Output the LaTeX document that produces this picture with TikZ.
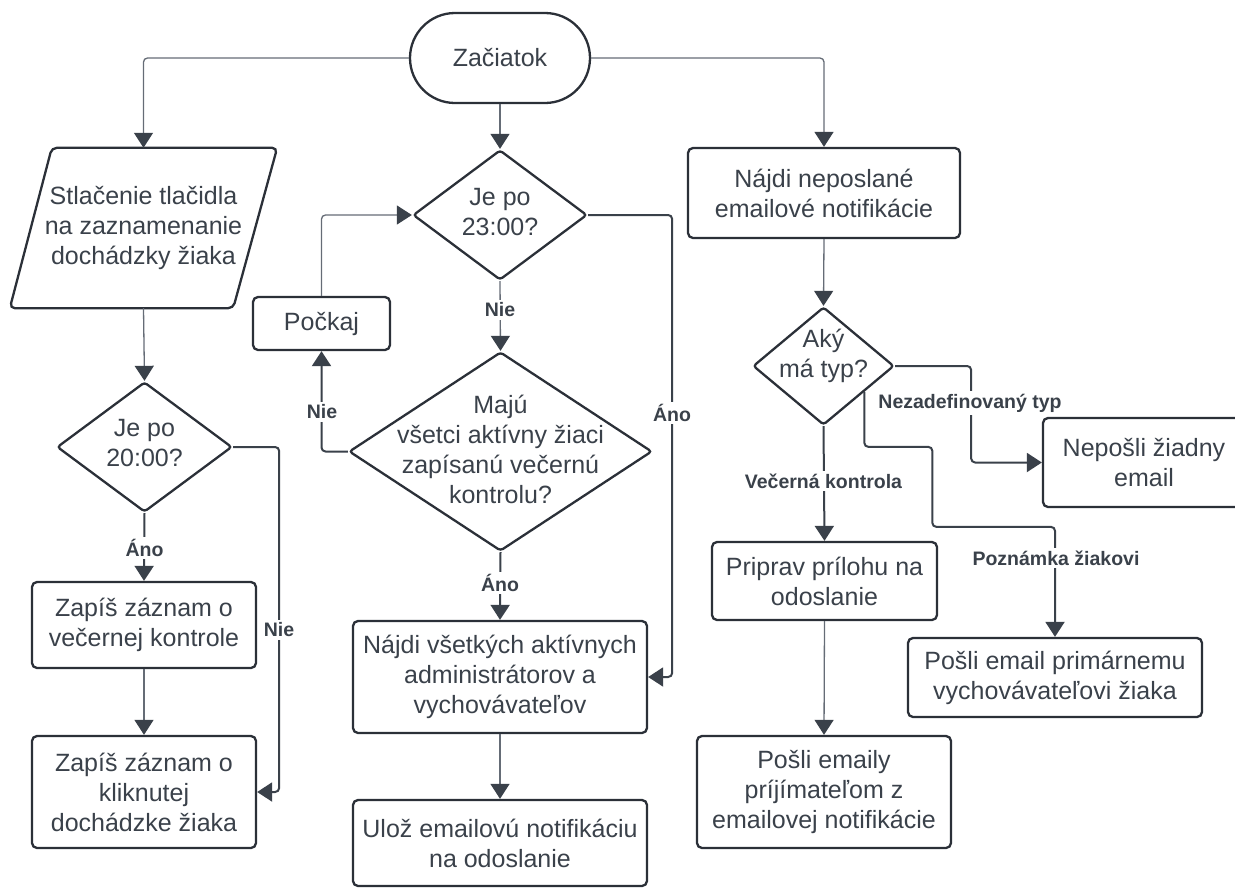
\documentclass[tikz,border=0pt]{standalone}
\usepackage{fontspec}
\setmainfont{Liberation Sans}
\usetikzlibrary{shapes.geometric,arrows.meta,calc}
\definecolor{ink}{HTML}{3A414A}
\definecolor{frame}{HTML}{2B3038}
\definecolor{wire}{HTML}{656C76}
\tikzset{
  body/.style={font=\fontsize{25}{30}\selectfont, text=ink, align=center},
  box/.style={body, draw=frame, line width=2.3pt, rounded corners=5pt, inner sep=0pt},
  decision/.style={diamond, draw=frame, line width=2.3pt, rounded corners=3pt, inner sep=0pt},
  tip/.style={-{Triangle[length=15pt,width=19pt,color=ink]}},
  conn/.style={draw=wire, line width=1.3pt, rounded corners=4pt, tip},
  connb/.style={draw=ink, line width=2pt, rounded corners=4pt, tip},
  lbl/.style={font=\fontsize{19.5}{22}\selectfont\bfseries, text=ink, fill=white, inner sep=2.5pt}
}
\begin{document}
\begin{tikzpicture}[x=1pt,y=-1pt]
\useasboundingbox (0,0) rectangle (1235,887);

% start terminal
\node[box, rounded corners=45pt, minimum width=180pt, minimum height=90pt] (start) at (500,58) {Začiatok};

% left column: button press and attendance records
\node[body, inner sep=0pt, minimum width=267pt, minimum height=160pt] (inp) at (143.5,228)
  {Stlačenie tlačidla\\na zaznamenanie\\dochádzky žiaka};
\draw[draw=frame, line width=2.3pt, rounded corners=5pt]
  ($(inp.north west)+(42,0)$) -- (inp.north east) -- ($(inp.south east)+(-44,0)$) -- (inp.south west) -- cycle;
\node[decision, minimum width=175pt, minimum height=130pt] (d20) at (144.5,447) {};
\node[body] (d20t) at ($(d20)+(0,-4)$) {Je po\\20:00?};
\node[box, minimum width=224pt, minimum height=86pt] (zap1) at (144,625) {Zapíš záznam o\\večernej kontrole};
\node[box, minimum width=224pt, minimum height=112pt] (zap2) at (144,792) {Zapíš záznam o\\kliknutej\\dochádzke žiaka};

% middle column: nightly check
\node[decision, minimum width=174pt, minimum height=130pt] (d23) at (500,215) {};
\node[body] (d23t) at ($(d23)+(0,-3)$) {Je po\\23:00?};
\node[box, minimum width=137pt, minimum height=53pt] (pockaj) at (321.5,323.5) {Počkaj};
\node[decision, minimum width=303pt, minimum height=199pt] (maju) at (500.5,451.5) {};
\node[body] (majut) at ($(maju)+(0,-2)$) {Majú\\všetci aktívny žiaci\\zapísanú večernú\\kontrolu?};
\node[box, minimum width=294pt, minimum height=112pt] (najdi) at (500,677) {Nájdi všetkých aktívnych\\administrátorov a\\vychovávateľov};
\node[box, minimum width=294pt, minimum height=86pt] (uloz) at (500,843) {Ulož emailovú notifikáciu\\na odoslanie};

% right column: sending notifications
\node[box, minimum width=272pt, minimum height=90pt] (nn) at (824,193) {Nájdi neposlané\\emailové notifikácie};
\node[decision, minimum width=141pt, minimum height=118pt] (aky) at (823.5,366) {};
\node[body] (akyt) at ($(aky)+(0,-10)$) {Aký\\má typ?};
\node[box, minimum width=225pt, minimum height=78pt] (priprav) at (824.5,581) {Priprav prílohu na\\odoslanie};
\node[box, minimum width=254pt, minimum height=112pt] (posli) at (824,792) {Pošli emaily\\príjímateľom z\\emailovej notifikácie};
\node[box, minimum width=202pt, minimum height=89pt] (nepos) at (1144,462.5) {Nepošli žiadny\\email};
\node[box, minimum width=294pt, minimum height=79pt] (prim) at (1055,677.5) {Pošli email primárnemu\\vychovávateľovi žiaka};

% connectors
\draw[conn] (start.west) -| (inp.north);
\draw[conn] (start.east) -| (nn.north);
\draw[conn] (start.south) -- (d23.north);

\draw[conn] (inp.south) -- (d20.north);
\draw[connb] (d20.south) -- (zap1.north);
\draw[conn] (zap1.south) -- (zap2.north);
\draw[connb] (d20.east) -- ++(46,0) |- (zap2.east);

\draw[conn] (d23.south) -- (maju.north);
\draw[connb] (maju.west) -| (pockaj.south);
\draw[conn] (pockaj.north) |- (d23.west);
\draw[connb] (d23.east) -- ++(84,0) |- (najdi.east);
\draw[connb] (maju.south) -- (najdi.north);
\draw[conn] (najdi.south) -- (uloz.north);

\draw[conn] (nn.south) -- (aky.north);
\draw[connb] (aky.south) -- (priprav.north);
\draw[conn] (priprav.south) -- (posli.north);
\draw[connb] (aky.east) -- ++(76,0) |- (nepos.west);
\coordinate (akyse) at ($(aky.east)!0.43!(aky.south)$);
\draw[connb] (akyse) -- ++(0,55) -- ++(68,0) -- ++(0,80) -| (prim.north);

% branch labels
\node[lbl] (l1) at (500,310) {Nie};
\node[lbl] (l2) at (322,412) {Nie};
\node[lbl] (l3) at (672,413) {Áno};
\node[lbl] (l4) at (500,583) {Áno};
\node[lbl] (l5) at (144.5,548) {Áno};
\node[lbl] (l6) at (279,630) {Nie};
\node[lbl] (l7) at (823.5,481) {Večerná kontrola};
\node[lbl] (l8) at (970,403) {Nezadefinovaný typ};
\node[lbl] (l9) at (1056,558) {Poznámka žiakovi};
\end{tikzpicture}
\end{document}
